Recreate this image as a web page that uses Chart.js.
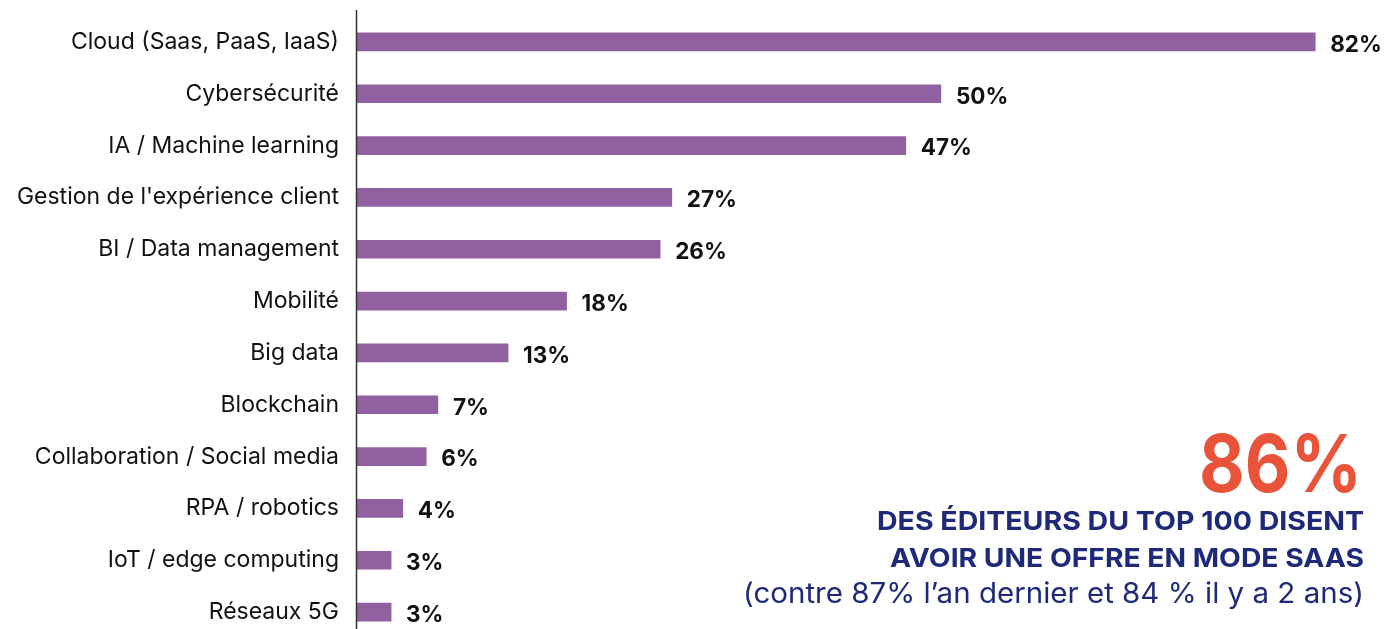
<!DOCTYPE html>
<html lang="fr">
<head>
<meta charset="utf-8">
<title>Technologies</title>
<script src="https://cdn.jsdelivr.net/npm/chart.js"></script>
<style>
  html, body { margin: 0; padding: 0; background: #fff; overflow: hidden; }
  #wrap { width: 1397px; height: 638px; }
</style>
</head>
<body>
<div id="wrap"><canvas id="techChart" width="1397" height="638"></canvas></div>
<script>
// Categories and values (%)
const categories = [
    "Cloud (Saas, PaaS, IaaS)",
    "Cybersécurité",
    "IA / Machine learning",
    "Gestion de l'expérience client",
    "BI / Data management",
    "Mobilité",
    "Big data",
    "Blockchain",
    "Collaboration / Social media",
    "RPA / robotics",
    "IoT / edge computing",
    "Réseaux 5G"
];
const values = [82, 50, 47, 27, 26, 18, 13, 7, 6, 4, 3, 3];

// Callout text
const bigFigure = "86%";
const calloutLines = ["DES ÉDITEURS DU TOP 100 DISENT", "AVOIR UNE OFFRE EN MODE SAAS"];
const calloutNote = "(contre 87% l\u2019an dernier et 84 % il y a 2 ans)";

const barColor = "#9160a0";
const navy = "#1e2a78";
const orange = "#e8533a";

// Draws the axis line, the value labels and the callout
const extrasPlugin = {
    id: "extras",
    afterDatasetsDraw(chart) {
        const ctx = chart.ctx;
        const area = chart.chartArea;
        ctx.save();

        // vertical axis line
        ctx.strokeStyle = "#333";
        ctx.lineWidth = 1.5;
        ctx.beginPath();
        ctx.moveTo(area.left + 0.5, 10);
        ctx.lineTo(area.left + 0.5, chart.height);
        ctx.stroke();

        // value labels
        const meta = chart.getDatasetMeta(0);
        ctx.fillStyle = "#111";
        ctx.font = "bold 22.5px Inter, 'Open Sans', sans-serif";
        ctx.textAlign = "left";
        ctx.textBaseline = "middle";
        meta.data.forEach((bar, i) => {
            ctx.fillText(values[i] + "%", bar.x + 15, bar.y + 3);
        });

        // callout block, right aligned
        const rightX = 1364;
        ctx.textAlign = "right";
        ctx.textBaseline = "alphabetic";
        ctx.fillStyle = orange;
        ctx.font = "bold 80px Inter, sans-serif";
        fitText(ctx, bigFigure, 1362, 492, 163);

        ctx.fillStyle = navy;
        ctx.font = "bold 26px Inter, sans-serif";
        const lineY = [530, 567];
        calloutLines.forEach((txt, i) => {
            fitText(ctx, txt, rightX, lineY[i], i === 0 ? 487 : 474);
        });

        ctx.font = "28px Inter, sans-serif";
        fitText(ctx, calloutNote, rightX, 603, 621);
        ctx.restore();
    }
};

// Draw right-aligned text squeezed horizontally to a target width
function fitText(ctx, txt, x, y, targetWidth) {
    const w = ctx.measureText(txt).width;
    const sx = targetWidth / w;
    ctx.save();
    ctx.translate(x, y);
    ctx.scale(sx, 1);
    ctx.fillText(txt, 0, 0);
    ctx.restore();
}

function initializeChart() {
    const ctx = document.getElementById("techChart").getContext("2d");
    new Chart(ctx, {
        type: "bar",
        data: {
            labels: categories,
            datasets: [{
                data: values,
                backgroundColor: barColor,
                barThickness: 18
            }]
        },
        options: {
            indexAxis: "y",
            responsive: false,
            animation: false,
            devicePixelRatio: 1,
            layout: { padding: { top: 16, bottom: 0, left: 0, right: 35 } },
            plugins: {
                legend: { display: false },
                tooltip: { enabled: false }
            },
            scales: {
                x: {
                    display: false,
                    min: 0,
                    max: 86
                },
                y: {
                    grid: { display: false, drawTicks: false },
                    border: { display: false },
                    ticks: {
                        color: "#111",
                        padding: 17,
                        font: { family: "Inter, 'Open Sans', sans-serif", size: 23 }
                    },
                    afterFit(scale) {
                        scale.width = 356;
                        scale.paddingTop = 0;
                        scale.paddingBottom = 0;
                    }
                }
            }
        },
        plugins: [extrasPlugin]
    });
}

document.addEventListener("DOMContentLoaded", initializeChart);
</script>
</body>
</html>
